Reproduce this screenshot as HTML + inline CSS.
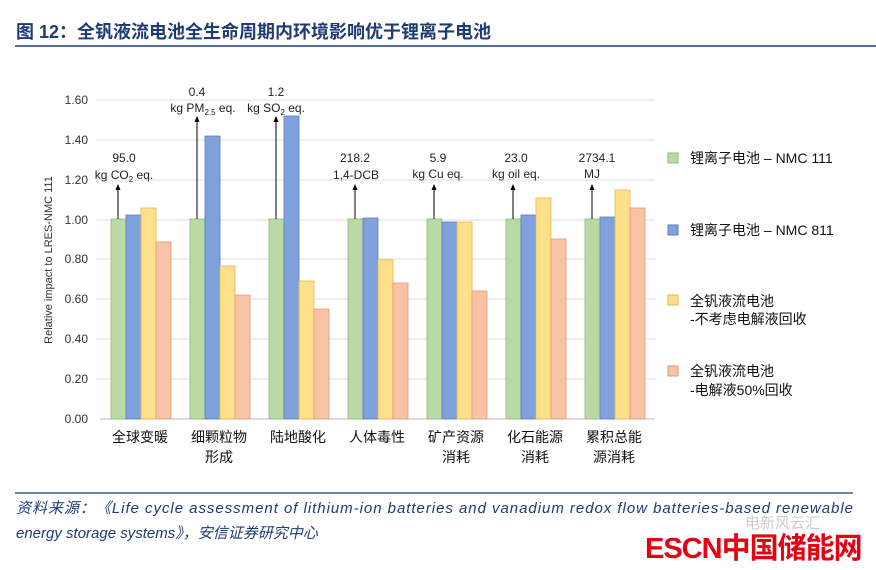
<!DOCTYPE html>
<html><head><meta charset="utf-8"><style>
body{margin:0;background:#fff;width:876px;height:570px;overflow:hidden}
svg{display:block}
</style></head><body>
<svg width="876" height="570" xmlns="http://www.w3.org/2000/svg" font-family="Liberation Sans, Noto Sans CJK SC, sans-serif">
<text x="16" y="38" font-size="18" font-weight="bold" fill="#1f3b73">图 12：全钒液流电池全生命周期内环境影响优于锂离子电池</text>
<line x1="15" y1="46" x2="876" y2="46" stroke="#1f3b73" stroke-width="1.5"/>
<g stroke="#dcdcdc" stroke-width="1">
<line x1="96" y1="100" x2="655" y2="100"/><line x1="96" y1="140" x2="655" y2="140"/><line x1="96" y1="180" x2="655" y2="180"/><line x1="96" y1="220" x2="655" y2="220"/><line x1="96" y1="259" x2="655" y2="259"/><line x1="96" y1="299" x2="655" y2="299"/><line x1="96" y1="339" x2="655" y2="339"/><line x1="96" y1="379" x2="655" y2="379"/>
</g>
<line x1="100" y1="419" x2="655" y2="419" stroke="#bbb"/>
<g font-size="12" fill="#333" text-anchor="end">
<text x="88" y="104">1.60</text><text x="88" y="144">1.40</text><text x="88" y="184">1.20</text><text x="88" y="224">1.00</text><text x="88" y="263">0.80</text><text x="88" y="303">0.60</text><text x="88" y="343">0.40</text><text x="88" y="383">0.20</text><text x="88" y="423">0.00</text>
</g>
<text transform="translate(52,260) rotate(-90)" font-size="11" fill="#333" text-anchor="middle">Relative impact to LRES-NMC 111</text>
<g stroke-width="0.8">
<rect x="111" y="219" width="15" height="200" fill="#b9d9a5" stroke="#8fb87a"/>
<rect x="126" y="215" width="15" height="204" fill="#7fa1dc" stroke="#5c7fc0"/>
<rect x="141" y="208" width="15" height="211" fill="#ffe08a" stroke="#e0b850"/>
<rect x="156" y="242" width="15" height="177" fill="#f8c3a4" stroke="#e09a78"/>
<rect x="190" y="219" width="15" height="200" fill="#b9d9a5" stroke="#8fb87a"/>
<rect x="205" y="136" width="15" height="283" fill="#7fa1dc" stroke="#5c7fc0"/>
<rect x="220" y="266" width="15" height="153" fill="#ffe08a" stroke="#e0b850"/>
<rect x="235" y="295" width="15" height="124" fill="#f8c3a4" stroke="#e09a78"/>
<rect x="269" y="219" width="15" height="200" fill="#b9d9a5" stroke="#8fb87a"/>
<rect x="284" y="116" width="15" height="303" fill="#7fa1dc" stroke="#5c7fc0"/>
<rect x="299" y="281" width="15" height="138" fill="#ffe08a" stroke="#e0b850"/>
<rect x="314" y="309" width="15" height="110" fill="#f8c3a4" stroke="#e09a78"/>
<rect x="348" y="219" width="15" height="200" fill="#b9d9a5" stroke="#8fb87a"/>
<rect x="363" y="218" width="15" height="201" fill="#7fa1dc" stroke="#5c7fc0"/>
<rect x="378" y="260" width="15" height="159" fill="#ffe08a" stroke="#e0b850"/>
<rect x="393" y="283" width="15" height="136" fill="#f8c3a4" stroke="#e09a78"/>
<rect x="427" y="219" width="15" height="200" fill="#b9d9a5" stroke="#8fb87a"/>
<rect x="442" y="222" width="15" height="197" fill="#7fa1dc" stroke="#5c7fc0"/>
<rect x="457" y="222" width="15" height="197" fill="#ffe08a" stroke="#e0b850"/>
<rect x="472" y="291" width="15" height="128" fill="#f8c3a4" stroke="#e09a78"/>
<rect x="506" y="219" width="15" height="200" fill="#b9d9a5" stroke="#8fb87a"/>
<rect x="521" y="215" width="15" height="204" fill="#7fa1dc" stroke="#5c7fc0"/>
<rect x="536" y="198" width="15" height="221" fill="#ffe08a" stroke="#e0b850"/>
<rect x="551" y="239" width="15" height="180" fill="#f8c3a4" stroke="#e09a78"/>
<rect x="585" y="219" width="15" height="200" fill="#b9d9a5" stroke="#8fb87a"/>
<rect x="600" y="217" width="15" height="202" fill="#7fa1dc" stroke="#5c7fc0"/>
<rect x="615" y="190" width="15" height="229" fill="#ffe08a" stroke="#e0b850"/>
<rect x="630" y="208" width="15" height="211" fill="#f8c3a4" stroke="#e09a78"/>
</g>
<g stroke="#000" stroke-width="1">
<line x1="118" y1="219" x2="118" y2="188"/>
<line x1="197" y1="219" x2="197" y2="120"/>
<line x1="276" y1="219" x2="276" y2="120"/>
<line x1="355" y1="219" x2="355" y2="188"/>
<line x1="434" y1="219" x2="434" y2="188"/>
<line x1="513" y1="219" x2="513" y2="188"/>
<line x1="592" y1="219" x2="592" y2="188"/>
</g>
<g fill="#000">
<path d="M115.5,190 L118,184 L120.5,190z"/><path d="M194.5,122 L197,116 L199.5,122z"/><path d="M273.5,122 L276,116 L278.5,122z"/><path d="M352.5,190 L355,184 L357.5,190z"/><path d="M431.5,190 L434,184 L436.5,190z"/><path d="M510.5,190 L513,184 L515.5,190z"/><path d="M589.5,190 L592,184 L594.5,190z"/>
</g>
<g font-size="12" fill="#222" text-anchor="middle">
<text x="124" y="162">95.0</text><text x="124" y="179">kg CO<tspan font-size="8" dy="3">2</tspan><tspan dy="-3"> eq.</tspan></text>
<text x="197" y="96">0.4</text><text x="203" y="112">kg PM<tspan font-size="8" dy="3">2.5</tspan><tspan dy="-3"> eq.</tspan></text>
<text x="276" y="96">1.2</text><text x="276" y="112">kg SO<tspan font-size="8" dy="3">2</tspan><tspan dy="-3"> eq.</tspan></text>
<text x="355" y="162">218.2</text><text x="356" y="179">1,4-DCB</text>
<text x="438" y="162">5.9</text><text x="438" y="178">kg Cu eq.</text>
<text x="516" y="162">23.0</text><text x="516" y="178">kg oil eq.</text>
<text x="597" y="162">2734.1</text><text x="592" y="178">MJ</text>
</g>
<g font-size="14" fill="#111" text-anchor="middle">
<text x="140" y="442">全球变暖</text>
<text x="219" y="442">细颗粒物</text><text x="219" y="462">形成</text>
<text x="298" y="442">陆地酸化</text>
<text x="377" y="442">人体毒性</text>
<text x="456" y="442">矿产资源</text><text x="456" y="462">消耗</text>
<text x="535" y="442">化石能源</text><text x="535" y="462">消耗</text>
<text x="614" y="442">累积总能</text><text x="614" y="462">源消耗</text>
</g>
<g font-size="14" fill="#111">
<rect x="668" y="153" width="10" height="10" fill="#b9d9a5" stroke="#8fb87a"/>
<text x="690" y="163">锂离子电池 – NMC 111</text>
<rect x="668" y="225" width="10" height="10" fill="#7fa1dc" stroke="#5c7fc0"/>
<text x="690" y="235">锂离子电池 – NMC 811</text>
<rect x="668" y="295" width="10" height="10" fill="#ffe08a" stroke="#e0b850"/>
<text x="690" y="306">全钒液流电池</text><text x="690" y="324">-不考虑电解液回收</text>
<rect x="668" y="366" width="10" height="10" fill="#f8c3a4" stroke="#e09a78"/>
<text x="690" y="376">全钒液流电池</text><text x="690" y="395">-电解液50%回收</text>
</g>
<line x1="15" y1="493" x2="853" y2="493" stroke="#1f3b73" stroke-width="1.2"/>
<g font-size="15" font-style="italic" fill="#1f3b73">
<text x="16" y="513" textLength="837" lengthAdjust="spacing">资料来源：《Life cycle assessment of lithium-ion batteries and vanadium redox flow batteries-based renewable</text>
<text x="16" y="538">energy storage systems》，安信证券研究中心</text>
</g>
<text x="745" y="528" font-size="15" fill="#ccc">电新风云汇</text>
<text x="645" y="558" font-size="29" font-weight="bold" fill="#e60012" letter-spacing="-1">ESCN中国储能网</text>
</svg>
</body></html>
